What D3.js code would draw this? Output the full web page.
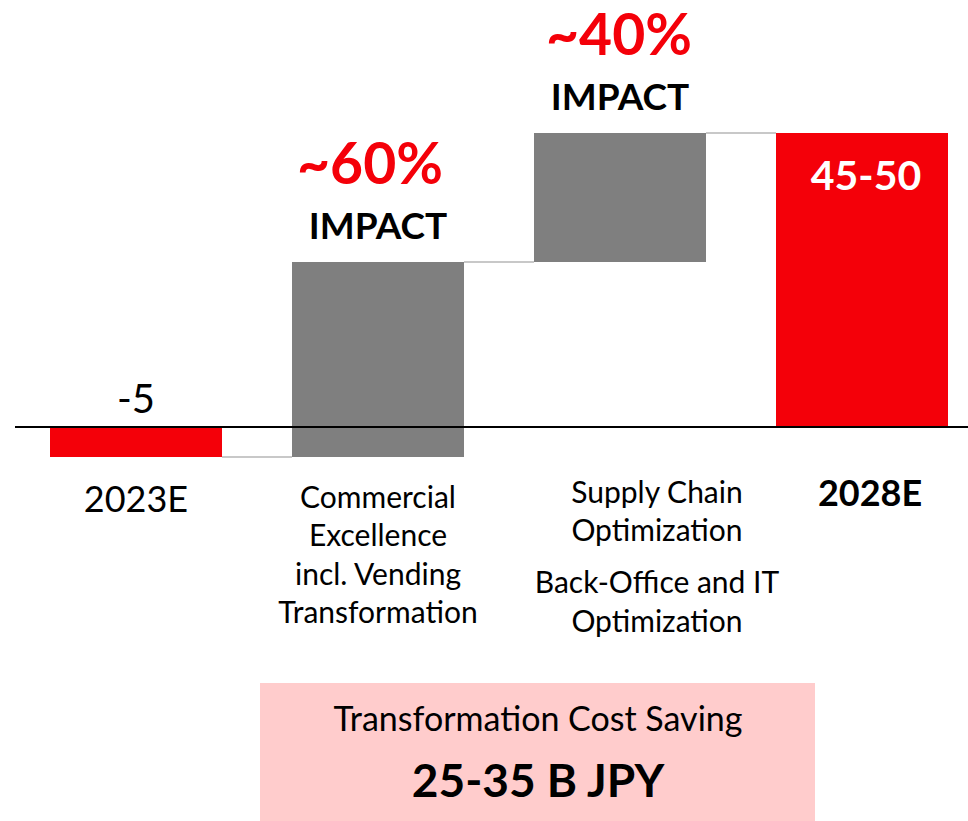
<!DOCTYPE html>
<html><head><meta charset="utf-8">
<script src="https://cdn.jsdelivr.net/npm/d3@7"></script>
<style>body{margin:0;background:#fff}svg{display:block}text{font-family:Lato,"Open Sans",sans-serif}</style>
</head><body><svg id="c" width="968" height="821"></svg>
<script>
const categories = ["2023E", "Commercial", "Supply", "2028E"];
const deltas = [-5, 32.5, 21.5, null];   // null => total bar
const barTypes = ["total", "step", "step", "total"];
const valueLabels = ["-5", null, null, "45-50"];
const impactLabels = [null, "~60%", "~40%", null];
const catLabels = [["2023E"], ["Commercial","Excellence","incl. Vending","Transformation"], ["Supply Chain","Optimization","","Back-Office and IT","Optimization"], ["2028E"]];
const boxTitle = "Transformation Cost Saving";
const boxValue = "25-35 B JPY";

const RED = "#f40009", GRAY = "#7f7f7f";
const svg = d3.select("#c");
const x = d3.scaleBand().domain(categories).range([15, 983]).paddingInner(70/242).paddingOuter(35/242);
const y = d3.scaleLinear().domain([-10, 60]).range([487, 67]);

// compute waterfall
let run = 0; const bars = [];
categories.forEach((c, i) => {
  if (i === 0) { bars.push({c, y0: 0, y1: deltas[0]}); run = deltas[0]; }
  else if (deltas[i] === null) { bars.push({c, y0: 0, y1: run}); }
  else { bars.push({c, y0: run, y1: run + deltas[i]}); run += deltas[i]; }
});

// connectors
for (let i = 0; i < bars.length - 1; i++) {
  const lvl = bars[i].y1;
  svg.append("line").attr("x1", x(bars[i].c) + x.bandwidth()).attr("x2", x(bars[i+1].c))
    .attr("y1", y(lvl)).attr("y2", y(lvl)).attr("stroke", "#c8c8c8").attr("stroke-width", 2);
}
// bars
svg.selectAll("rect.bar").data(bars).join("rect").attr("class","bar")
  .attr("x", d => x(d.c)).attr("width", x.bandwidth())
  .attr("y", d => y(Math.max(d.y0, d.y1))).attr("height", d => Math.abs(y(d.y0) - y(d.y1)))
  .attr("fill", (d, i) => barTypes[i] === "total" ? RED : GRAY);
// axis line
svg.append("line").attr("x1", 15).attr("x2", 968).attr("y1", y(0)).attr("y2", y(0)).attr("stroke", "#000").attr("stroke-width", 2);

const cx = c => x(c) + x.bandwidth() / 2;
// value labels
svg.append("text").attr("x", cx(categories[0])).attr("y", 413).attr("text-anchor","middle")
  .attr("font-size", 40).text(valueLabels[0]);
svg.append("text").attr("x", cx(categories[3]) + 4).attr("y", y(bars[3].y1) + 57).attr("text-anchor","middle")
  .attr("font-size", 41).attr("font-weight","bold").attr("fill","#fff").text(valueLabels[3]);
// impact labels
const impactDx = {1: -8, 2: -1};
[1, 2].forEach(i => {
  const top = y(bars[i].y1);
  svg.append("text").attr("x", cx(categories[i]) + impactDx[i]).attr("y", top - 78).attr("text-anchor","middle")
    .attr("font-size", 57).attr("font-weight","bold").attr("fill", RED).text(impactLabels[i]);
  svg.append("text").attr("x", cx(categories[i])).attr("y", top - 23).attr("text-anchor","middle")
    .attr("font-size", 37).attr("font-weight","bold").attr("fill","#000").text("IMPACT");
});
// category labels
svg.append("text").attr("x", cx(categories[0])).attr("y", 512).attr("text-anchor","middle").attr("font-size", 36).text(catLabels[0][0]);
svg.append("text").attr("x", cx(categories[3]) + 8).attr("y", 506).attr("text-anchor","middle").attr("font-size", 36).attr("font-weight","bold").text(catLabels[3][0]);
catLabels[1].forEach((t, k) => svg.append("text").attr("x", cx(categories[1])).attr("y", 508 + k*38.3).attr("text-anchor","middle").attr("font-size", 30).text(t));
const supplyY = [503, 541, 0, 593, 632];
catLabels[2].forEach((t, k) => { if (t) svg.append("text").attr("x", cx(categories[2]) + 37).attr("y", supplyY[k]).attr("text-anchor","middle").attr("font-size", 30).text(t); });

// box
svg.append("rect").attr("x", 260).attr("y", 683).attr("width", 555).attr("height", 138).attr("fill", "#ffcccc");
svg.append("text").attr("x", 538).attr("y", 731).attr("text-anchor","middle").attr("font-size", 34).text(boxTitle);
svg.append("text").attr("x", 538).attr("y", 797).attr("text-anchor","middle").attr("font-size", 46).attr("font-weight","bold").text(boxValue);
</script></body></html>
